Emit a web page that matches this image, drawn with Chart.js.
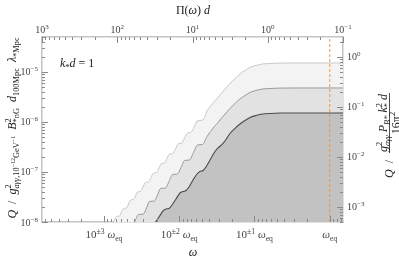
<!DOCTYPE html>
<html>
<head>
<meta charset="utf-8">
<script src="https://cdn.jsdelivr.net/npm/chart.js@4.4.1/dist/chart.umd.min.js"></script>
<style>
  html, body { margin: 0; padding: 0; background: #fff; }
  #wrap { width: 399px; height: 264px; }
</style>
</head>
<body>
<div id="wrap"><canvas id="qChart" width="399" height="264"></canvas></div>
<script>
// curves, stored as powers of ten (log10 ω, log10 Q)
const lightLogOmega = [-2.987, -2.880, -2.834, -2.794, -2.767, -2.741, -2.701, -2.674, -2.648, -2.608,
    -2.581, -2.555, -2.515, -2.482, -2.449, -2.409, -2.375, -2.342, -2.302, -2.269,
    -2.236, -2.196, -2.163, -2.130, -2.090, -2.050, -2.010, -1.970, -1.930, -1.890,
    -1.850, -1.797, -1.764, -1.684, -1.631, -1.538, -1.485, -1.432, -1.379, -1.326,
    -1.259, -1.193, -1.126, -1.060, -0.980, -0.887, -0.794, -0.661, -0.395, 0.269];
const lightLogQ = [-8.19, -8.00, -7.89, -7.88, -7.80, -7.73, -7.72, -7.64, -7.56, -7.55,
    -7.48, -7.40, -7.39, -7.30, -7.21, -7.20, -7.11, -7.02, -7.01, -6.92,
    -6.83, -6.82, -6.73, -6.64, -6.635, -6.54, -6.43, -6.425, -6.32, -6.22,
    -6.21, -6.09, -5.98, -5.96, -5.78, -5.60, -5.51, -5.41, -5.32, -5.23,
    -5.13, -5.04, -4.97, -4.91, -4.87, -4.84, -4.83, -4.822, -4.82, -4.82];

const midLogOmega = [-2.721, -2.654, -2.595, -2.542, -2.475, -2.435, -2.395, -2.329, -2.289, -2.249,
    -2.183, -2.136, -2.090, -2.023, -1.977, -1.930, -1.864, -1.811, -1.757, -1.691,
    -1.631, -1.538, -1.485, -1.432, -1.379, -1.326, -1.259, -1.193, -1.126, -1.060,
    -0.980, -0.887, -0.794, -0.661, -0.395, 0.269];
const midLogQ = [-8.22, -8.11, -8.00, -7.85, -7.84, -7.72, -7.59, -7.58, -7.46, -7.33,
    -7.32, -7.19, -7.05, -7.04, -6.91, -6.77, -6.76, -6.61, -6.46, -6.45,
    -6.29, -6.10, -6.01, -5.91, -5.82, -5.73, -5.63, -5.54, -5.47, -5.41,
    -5.37, -5.34, -5.33, -5.322, -5.32, -5.32];

const darkLogOmega = [-2.522, -2.389, -2.322, -2.269, -2.216, -2.176, -2.136, -2.096, -2.043, -1.990,
    -1.950, -1.910, -1.870, -1.817, -1.764, -1.724, -1.684, -1.645, -1.591, -1.538,
    -1.485, -1.432, -1.379, -1.326, -1.259, -1.193, -1.126, -1.060, -0.980, -0.887,
    -0.794, -0.661, -0.395, 0.269];
const darkLogQ = [-8.37, -8.14, -8.02, -7.90, -7.78, -7.74, -7.73, -7.66, -7.54, -7.42,
    -7.39, -7.37, -7.30, -7.16, -7.04, -6.99, -6.97, -6.90, -6.76, -6.62,
    -6.52, -6.45, -6.35, -6.23, -6.13, -6.04, -5.97, -5.91, -5.87, -5.84,
    -5.83, -5.822, -5.82, -5.82];

// ω_eq marker
const omegaEq = 1;

// axis ranges
const omegaRange = [1.5e-4, 1.5];
const piRange = [0.1, 1000];
const qRange = [1e-8, 5e-5];
const qNormRange = [5e-4, 2.5];

// tick labels
const bottomTicks = [1e-3, 1e-2, 1e-1, 1];
const bottomExp = ['±3', '±2', '±1', null];
const topTicks = [1000, 100, 10, 1, 0.1];
const topExp = ['3', '2', '1', '0', '−1'];
const leftTicks = [1e-5, 1e-6, 1e-7, 1e-8];
const leftExp = ['−5', '−6', '−7', '−8'];
const rightTicks = [1, 0.1, 0.01, 0.001];
const rightExp = ['0', '−1', '−2', '−3'];

const serif = '"Liberation Serif", "DejaVu Serif", "Times New Roman", serif';
const KINDS = {
    n: { s: 1, dy: 0 },
    sup: { s: 0.7, dy: -0.4 },
    sub: { s: 0.7, dy: 0.25 },
    ssup: { s: 0.5, dy: -0.05 }
};

function fontFor(p, size) {
    const k = KINDS[p.k || 'n'];
    return (p.i ? 'italic ' : '') + (size * k.s).toFixed(1) + 'px ' + serif;
}

function richWidth(ctx, parts, size) {
    let w = 0;
    parts.forEach(p => {
        if (p.keep) return;
        ctx.font = fontFor(p, size);
        w += ctx.measureText(p.t).width;
    });
    return w;
}

function drawRich(ctx, parts, x, y, size, align) {
    const w = richWidth(ctx, parts, size);
    let cx = align === 'center' ? x - w / 2 : align === 'right' ? x - w : x;
    ctx.textAlign = 'left';
    ctx.textBaseline = 'alphabetic';
    parts.forEach(p => {
        ctx.font = fontFor(p, size);
        const k = KINDS[p.k || 'n'];
        ctx.fillText(p.t, cx, y + k.dy * size);
        if (!p.keep) cx += ctx.measureText(p.t).width;
    });
    return w;
}

function powerLabel(exp) {
    return [{ t: '10' }, { t: exp, k: 'sup' }];
}

const frameDecor = {
    id: 'frameDecor',
    afterDraw(chart) {
        const { ctx, chartArea: a, scales } = chart;
        ctx.save();

        // inward ticks
        ctx.strokeStyle = '#8a8a8a';
        ctx.lineWidth = 1;
        const inRange = (s, v) => v >= Math.min(s.min, s.max) && v <= Math.max(s.min, s.max);
        const tickX = (s, v, len, atTop) => {
            if (!inRange(s, v)) return;
            const px = Math.round(s.getPixelForValue(v)) + 0.5;
            const y0 = atTop ? a.top : a.bottom;
            ctx.beginPath();
            ctx.moveTo(px, y0);
            ctx.lineTo(px, atTop ? y0 + len : y0 - len);
            ctx.stroke();
        };
        const tickY = (s, v, len, atRight) => {
            if (!inRange(s, v)) return;
            const py = Math.round(s.getPixelForValue(v)) + 0.5;
            const x0 = atRight ? a.right : a.left;
            ctx.beginPath();
            ctx.moveTo(x0, py);
            ctx.lineTo(atRight ? x0 - len : x0 + len, py);
            ctx.stroke();
        };
        for (let d = -5; d <= 3; d++) {
            for (let m = 2; m <= 9; m++) {
                tickX(scales.x, Math.pow(10, d + 1) / m, 3, false);
                tickX(scales.x2, m * Math.pow(10, d), 3, true);
            }
        }
        for (let d = -9; d <= 1; d++) {
            for (let m = 2; m <= 9; m++) {
                tickY(scales.y, m * Math.pow(10, d), 3, false);
                tickY(scales.y2, m * Math.pow(10, d), 3, true);
            }
        }
        bottomTicks.forEach(v => tickX(scales.x, v, 6, false));
        topTicks.forEach(v => tickX(scales.x2, v, 6, true));
        leftTicks.forEach(v => tickY(scales.y, v, 6, false));
        rightTicks.forEach(v => tickY(scales.y2, v, 6, true));

        // tick labels
        ctx.fillStyle = '#444';
        bottomTicks.forEach((v, i) => {
            const px = scales.x.getPixelForValue(v);
            const parts = bottomExp[i] ? powerLabel(bottomExp[i]).concat([{ t: ' ' }]) : [];
            parts.push({ t: 'ω', i: true }, { t: 'eq', k: 'sub' });
            drawRich(ctx, parts, px, 238, 11, 'center');
        });
        topTicks.forEach((v, i) => {
            drawRich(ctx, powerLabel(topExp[i]), scales.x2.getPixelForValue(v), 33, 10, 'center');
        });
        leftTicks.forEach((v, i) => {
            drawRich(ctx, powerLabel(leftExp[i]), 38, scales.y.getPixelForValue(v) + 3.5, 10, 'right');
        });
        rightTicks.forEach((v, i) => {
            drawRich(ctx, powerLabel(rightExp[i]), 347, scales.y2.getPixelForValue(v) + 3.5, 10, 'left');
        });

        // axis titles
        ctx.fillStyle = '#222';
        drawRich(ctx, [{ t: 'Π(' }, { t: 'ω', i: true }, { t: ') ' }, { t: 'd', i: true }], 193, 14, 12, 'center');
        drawRich(ctx, [{ t: 'ω', i: true }], 193, 256, 12, 'center');
        drawRich(ctx, [{ t: 'k', i: true }, { t: '*', k: 'sub' }, { t: 'd', i: true }, { t: ' = 1' }], 60, 67, 12, 'left');

        // left title, rotated
        ctx.save();
        ctx.translate(16, 128);
        ctx.rotate(-Math.PI / 2);
        drawRich(ctx, [
            { t: 'Q', i: true }, { t: '  /  ' }, { t: 'g', i: true }, { t: '2', k: 'sup', keep: true },
            { t: 'aγγ', k: 'sub', i: true }, { t: ',10', k: 'sub' }, { t: '−12', k: 'ssup' },
            { t: 'GeV', k: 'sub' }, { t: '−1', k: 'ssup' }, { t: '  ' },
            { t: 'B', i: true }, { t: '2', k: 'sup', keep: true }, { t: '*nG', k: 'sub' }, { t: '  ' },
            { t: 'd', i: true }, { t: '100Mpc', k: 'sub' }, { t: '  ' },
            { t: 'λ', i: true }, { t: '*Mpc', k: 'sub' }
        ], 0, 0, 12, 'center');
        ctx.restore();

        // right title, rotated, with a fraction
        ctx.save();
        ctx.translate(389.5, 178);
        ctx.rotate(-Math.PI / 2);
        const qw = drawRich(ctx, [{ t: 'Q', i: true }, { t: '  /  ' }], 0, 3.5, 12, 'left');
        const num = [
            { t: 'g', i: true }, { t: '2', k: 'sup', keep: true }, { t: 'aγγ', k: 'sub', i: true }, { t: ' ' },
            { t: 'P', i: true }, { t: 'B*', k: 'sub', i: true }, { t: ' ' },
            { t: 'k', i: true }, { t: '2', k: 'sup', keep: true }, { t: '*', k: 'sub' }, { t: ' ' },
            { t: 'd', i: true }
        ];
        const den = [{ t: '16π' }, { t: '2', k: 'sup' }];
        const nw = richWidth(ctx, num, 12);
        const dw = richWidth(ctx, den, 12);
        const fw = Math.max(nw, dw) + 2;
        const f0 = qw + 1;
        drawRich(ctx, num, f0 + fw / 2, -3, 12, 'center');
        drawRich(ctx, den, f0 + fw / 2, 10.5, 12, 'center');
        ctx.strokeStyle = '#222';
        ctx.lineWidth = 0.8;
        ctx.beginPath();
        ctx.moveTo(f0, 0);
        ctx.lineTo(f0 + fw, 0);
        ctx.stroke();
        ctx.restore();

        ctx.restore();
    }
};

function toPoints(logW, logQ) {
    return logW.map((w, i) => ({ x: Math.pow(10, w), y: Math.pow(10, logQ[i]) }));
}

const frameBorder = { display: true, color: '#c4c4c4', width: 1.5 };

const ctx = document.getElementById('qChart').getContext('2d');
new Chart(ctx, {
    type: 'line',
    data: {
        datasets: [{
            label: 'ω_eq',
            data: [{ x: omegaEq, y: 1e-9 }, { x: omegaEq, y: 1e-3 }],
            borderColor: 'rgba(238, 150, 60, 0.95)',
            borderWidth: 1,
            borderDash: [3, 2],
            pointRadius: 0,
            fill: false,
            order: 0
        }, {
            label: 'dark',
            data: toPoints(darkLogOmega, darkLogQ),
            borderColor: '#4a4a4a',
            backgroundColor: '#c2c2c2',
            borderWidth: 1.1,
            pointRadius: 0,
            fill: 'start',
            cubicInterpolationMode: 'monotone',
            order: 1
        }, {
            label: 'mid',
            data: toPoints(midLogOmega, midLogQ),
            borderColor: '#9a9a9a',
            backgroundColor: '#e2e2e2',
            borderWidth: 1,
            pointRadius: 0,
            fill: 'start',
            cubicInterpolationMode: 'monotone',
            order: 2
        }, {
            label: 'light',
            data: toPoints(lightLogOmega, lightLogQ),
            borderColor: '#c8c8c8',
            backgroundColor: '#f3f3f3',
            borderWidth: 1,
            pointRadius: 0,
            fill: 'start',
            cubicInterpolationMode: 'monotone',
            order: 3
        }]
    },
    options: {
        responsive: false,
        animation: false,
        layout: { padding: 0 },
        plugins: { legend: { display: false }, tooltip: { enabled: false } },
        scales: {
            x: {
                type: 'logarithmic', position: 'bottom',
                min: omegaRange[0], max: omegaRange[1],
                grid: { display: false }, ticks: { display: false }, border: frameBorder,
                afterFit: s => { s.height = 42; }
            },
            x2: {
                type: 'logarithmic', position: 'top', reverse: true,
                min: piRange[0], max: piRange[1],
                grid: { display: false }, ticks: { display: false }, border: frameBorder,
                afterFit: s => { s.height = 37; }
            },
            y: {
                type: 'logarithmic', position: 'left',
                min: qRange[0], max: qRange[1],
                grid: { display: false }, ticks: { display: false }, border: frameBorder,
                afterFit: s => { s.width = 42; }
            },
            y2: {
                type: 'logarithmic', position: 'right',
                min: qNormRange[0], max: qNormRange[1],
                grid: { display: false }, ticks: { display: false }, border: frameBorder,
                afterFit: s => { s.width = 56; }
            }
        }
    },
    plugins: [frameDecor]
});
</script>
</body>
</html>
